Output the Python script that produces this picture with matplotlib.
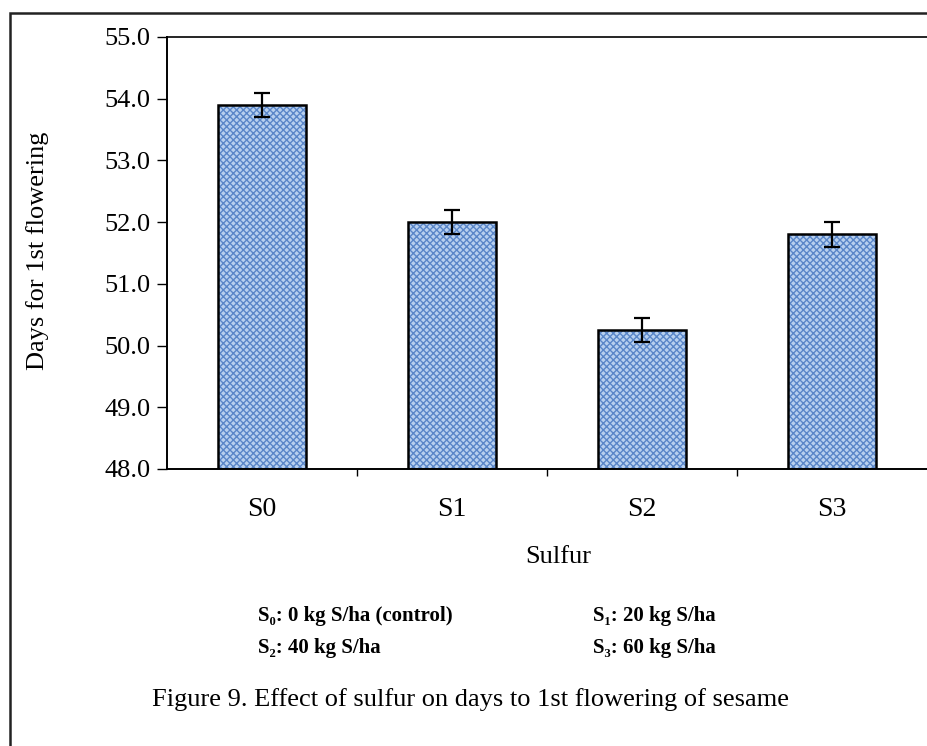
import matplotlib.pyplot as plt
from matplotlib.patches import Rectangle

plt.rcParams['font.family'] = ['Liberation Serif', 'DejaVu Serif']

treatments = ['S0', 'S1', 'S2', 'S3']
days = [53.9, 52.0, 50.25, 51.8]
errors = [0.2, 0.2, 0.2, 0.2]
notes = [['S\u2080: 0 kg S/ha (control)', 'S\u2081: 20 kg S/ha'],
         ['S\u2082: 40 kg S/ha', 'S\u2083: 60 kg S/ha']]

fig = plt.figure(figsize=(9.27, 7.46), dpi=100)
# frame around the whole figure
fig.patches.append(Rectangle((10/927, -0.05), 1.1, 1 - 13/746 + 0.05,
                             transform=fig.transFigure, fill=False,
                             edgecolor='#222222', linewidth=1.8))

ax = fig.add_axes([167/927, 1 - 469/746, 760/927, (469 - 37)/746])
x = range(len(treatments))
# hatched fill first, then the black outline on top
ax.bar(x, [d - 48 for d in days], bottom=48, width=0.46, color='#b8d0ef',
       edgecolor='#5a86c8', hatch='xxxxx', linewidth=0)
ax.bar(x, [d - 48 for d in days], bottom=48, width=0.46, fill=False,
       edgecolor='black', linewidth=1.8)
ax.errorbar(x, days, yerr=errors, fmt='none', ecolor='black',
            elinewidth=1.6, capsize=5.5, capthick=1.6)

ax.set_xlim(-0.5, 3.5)
ax.set_ylim(48, 55)
ax.set_yticks([48 + i for i in range(8)])
ax.set_yticklabels(['%.1f' % (48 + i) for i in range(8)], fontsize=19)
ax.set_xticks(x)
ax.set_xticklabels(treatments, fontsize=20)
ax.tick_params(axis='x', length=0, pad=20)
ax.set_xticks([0.5, 1.5, 2.5], minor=True)
ax.tick_params(axis='x', which='minor', length=5, direction='out', width=1)
ax.tick_params(axis='y', length=7, width=1, direction='out', pad=5)
ax.spines['right'].set_visible(False)
ax.spines['top'].set_linestyle((0, (1, 1)))
ax.spines['top'].set_linewidth(1.2)
ax.spines['left'].set_linewidth(1.4)
ax.spines['bottom'].set_linewidth(1.4)

fig.text(38/927, 1 - 251/746, 'Days for 1st flowering', fontsize=19,
         rotation=90, ha='center', va='center')
fig.text(558/927, 1 - 557/746, 'Sulfur', fontsize=19, ha='center', va='center')

for row, yy in zip(notes, [616, 648]):
    fig.text(258/927, 1 - yy/746, row[0], fontsize=15, fontweight='bold',
             ha='left', va='center')
    fig.text(593/927, 1 - yy/746, row[1], fontsize=15, fontweight='bold',
             ha='left', va='center')

fig.text(470/927, 1 - 700/746,
         'Figure 9. Effect of sulfur on days to 1st flowering of sesame',
         fontsize=19, ha='center', va='center')

fig.savefig('out.png', dpi=100)
